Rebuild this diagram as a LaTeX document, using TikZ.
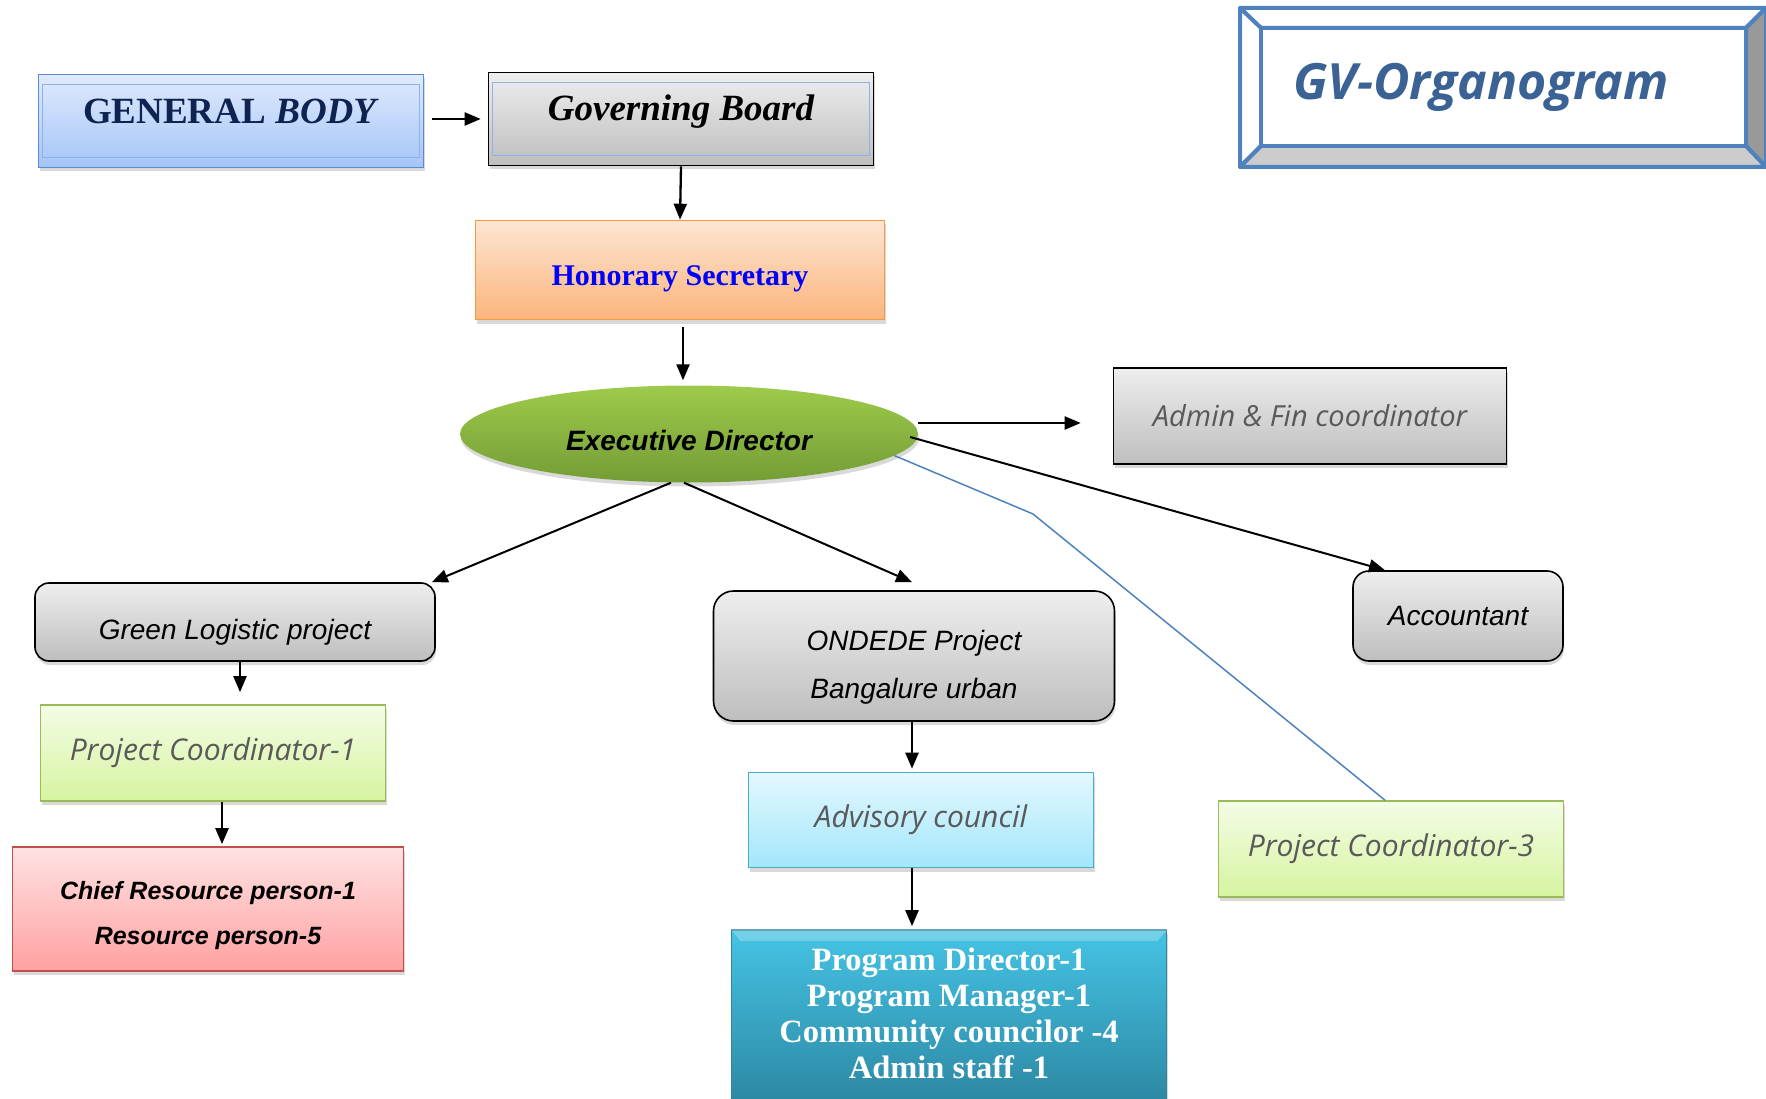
\documentclass[tikz,border=0pt]{standalone}
\usepackage{fontspec}
\setmainfont{Liberation Serif}
\setsansfont{Liberation Sans}
\newfontfamily\comicfont{Open Sans}
\usetikzlibrary{arrows.meta,shapes.geometric,shadows}

\definecolor{gbtop}{HTML}{DFEAFD}
\definecolor{gbbot}{HTML}{A5C5F8}
\definecolor{gbline}{HTML}{5B8BD0}
\definecolor{navy}{HTML}{0F2350}
\definecolor{graytop}{HTML}{EEEEEE}
\definecolor{graybot}{HTML}{BEBEBE}
\definecolor{innerblue}{HTML}{8DB3E2}
\definecolor{hstop}{HTML}{FDE5D2}
\definecolor{hsbot}{HTML}{FBB57C}
\definecolor{hsline}{HTML}{F79646}
\definecolor{edtop}{HTML}{9DCB4B}
\definecolor{edbot}{HTML}{749C36}
\definecolor{pctop}{HTML}{F4FCE6}
\definecolor{pcbot}{HTML}{D6F4A0}
\definecolor{pcline}{HTML}{9BBB59}
\definecolor{crtop}{HTML}{FFE2E2}
\definecolor{crbot}{HTML}{FFA1A1}
\definecolor{crline}{HTML}{C0504D}
\definecolor{actop}{HTML}{E3F8FE}
\definecolor{acbot}{HTML}{A3E6FB}
\definecolor{acline}{HTML}{4BACC6}
\definecolor{prtop}{HTML}{45C3E4}
\definecolor{prbot}{HTML}{2C87A2}
\definecolor{prline}{HTML}{31859C}
\definecolor{comicgray}{HTML}{595959}
\definecolor{titleblue}{HTML}{3A6294}
\definecolor{frameblue}{HTML}{4F81BD}

\begin{document}
\begin{tikzpicture}[x=1pt,y=-1pt,
  basebox/.style={rectangle, inner sep=0pt, align=center,
    drop shadow={shadow xshift=1pt, shadow yshift=-4pt, opacity=0.3}},
  graybox/.style={basebox, draw=black, line width=1.6pt, top color=graytop, bottom color=graybot},
  roundbox/.style={graybox, rounded corners=16pt, font=\sffamily\itshape\fontsize{28}{48}\selectfont},
  greenbox/.style={basebox, draw=pcline, line width=1.6pt, top color=pctop, bottom color=pcbot,
    text=comicgray, font=\comicfont\itshape\fontsize{30}{34}\selectfont,
    minimum width=345pt, minimum height=96pt},
  innerline/.style={draw=innerblue, line width=0.8pt},
  arr/.style={-{Triangle[length=16pt,width=13pt]}, line width=2.3pt},
  blueline/.style={draw=frameblue, line width=1.5pt}]

  \useasboundingbox (0,0) rectangle (1766,1099);

  % title frame
  \filldraw[fill=white, draw=frameblue, line width=4pt, line join=round]
    (1240,8) -- (1766,8) -- (1746,28) -- (1261,28) -- cycle;
  \filldraw[fill=white, draw=frameblue, line width=4pt, line join=round]
    (1240,8) -- (1261,28) -- (1261,146) -- (1240,167) -- cycle;
  \filldraw[fill=gray!80, draw=frameblue, line width=4pt, line join=round]
    (1766,8) -- (1746,28) -- (1746,146) -- (1766,167) -- cycle;
  \filldraw[fill=gray!40, draw=frameblue, line width=4pt, line join=round]
    (1240,167) -- (1261,146) -- (1746,146) -- (1766,167) -- cycle;
  \filldraw[fill=white, draw=frameblue, line width=4pt] (1261,28) rectangle (1746,146);
  \node[text=titleblue, font=\comicfont\bfseries\itshape\fontsize{50}{56}\selectfont]
    (title) at (1481,87) {GV-Organogram};

  % top of the chart
  \node[basebox, draw=gbline, line width=1.6pt, top color=gbtop, bottom color=gbbot,
    minimum width=385pt, minimum height=93pt, text=navy,
    font=\bfseries\fontsize{37}{40}\selectfont, text height=25pt, text depth=20pt]
    (gbody) at (231,121) {GENERAL \textit{BODY}};
  \draw[innerline] ([xshift=5pt,yshift=-11pt]gbody.north west) rectangle ([xshift=-5pt,yshift=11pt]gbody.south east);

  \node[graybox, minimum width=385pt, minimum height=93pt,
    font=\bfseries\itshape\fontsize{37}{40}\selectfont, text height=27pt, text depth=23pt]
    (gboard) at (681,119) {Governing Board};
  \draw[innerline] ([xshift=5pt,yshift=-11pt]gboard.north west) rectangle ([xshift=-5pt,yshift=11pt]gboard.south east);

  \node[basebox, draw=hsline, line width=1.6pt, top color=hstop, bottom color=hsbot,
    minimum width=409pt, minimum height=99pt, text=blue,
    font=\bfseries\fontsize{30}{32}\selectfont, text height=40pt, text depth=9pt]
    (honsec) at (680,270) {Honorary Secretary};

  \node[ellipse, inner sep=0pt, top color=edtop, bottom color=edbot,
    drop shadow={shadow xshift=1pt, shadow yshift=-4pt, opacity=0.3},
    minimum width=458pt, minimum height=97pt,
    font=\sffamily\bfseries\itshape\fontsize{28}{30}\selectfont, text height=33pt, text depth=0pt]
    (exdir) at (689,434) {Executive Director};

  \node[graybox, minimum width=393pt, minimum height=96pt, text=comicgray,
    font=\comicfont\itshape\fontsize{29}{32}\selectfont]
    (adminfin) at (1310,416) {Admin \& Fin coordinator};

  % projects
  \node[roundbox, minimum width=400pt, minimum height=78pt, rounded corners=14pt,
    text height=40pt, text depth=5pt]
    (greenlog) at (235,622) {Green Logistic project};
  \node[roundbox, minimum width=401pt, minimum height=130pt, rounded corners=20pt,
    text height=90pt, text depth=6pt]
    (ondede) at (914,656) {ONDEDE Project\\Bangalure urban};
  \node[roundbox, minimum width=210pt, minimum height=90pt]
    (accountant) at (1458,616) {Accountant};

  \node[greenbox] (pcone) at (213,753) {Project Coordinator-1};
  \node[greenbox] (pcthree) at (1391,849) {Project Coordinator-3};

  \node[basebox, draw=crline, line width=1.6pt, top color=crtop, bottom color=crbot,
    minimum width=391pt, minimum height=124pt,
    font=\sffamily\bfseries\itshape\fontsize{25}{45}\selectfont, text height=75pt, text depth=5pt]
    (chief) at (208,909) {Chief Resource person-1\\Resource person-5};

  \node[basebox, draw=acline, line width=1.6pt, top color=actop, bottom color=acbot,
    minimum width=345pt, minimum height=95pt, text=comicgray,
    font=\comicfont\itshape\fontsize{30}{34}\selectfont]
    (advisory) at (921,820) {Advisory council};

  \node[basebox, draw=prline, line width=1.6pt, top color=prtop, bottom color=prbot,
    minimum width=435pt, minimum height=176pt, text=white,
    font=\bfseries\fontsize{32.5}{36}\selectfont, text depth=9pt]
    (program) at (949,1018) {Program Director-1\\Program Manager-1\\Community councilor -4\\Admin staff -1};
  \fill[white, opacity=0.25] (program.north west) -- (program.north east)
    -- ([xshift=-10pt,yshift=-12pt]program.north east) -- ([xshift=10pt,yshift=-12pt]program.north west) -- cycle;

  % connectors
  \draw[arr, shorten <=8pt, shorten >=7pt] ([yshift=2pt]gbody.east) -- (gboard.west);
  \draw[arr] (gboard.south) -- (honsec.north);
  \draw[arr, shorten <=7pt, shorten >=5pt] ([xshift=3pt]honsec.south) -- ([xshift=3pt]honsec.south |- exdir.north);
  \draw[arr, shorten >=32pt] ([yshift=11pt]exdir.east) -- ([yshift=11pt]exdir.east -| adminfin.west);
  \draw[arr, line width=2pt] ([xshift=-8pt,yshift=-3pt]exdir.east) -- ([xshift=-73pt]accountant.north);
  \draw[arr, line width=2pt] ([xshift=-18pt]exdir.south) -- ([xshift=-4pt]greenlog.north east);
  \draw[arr, line width=2pt] ([xshift=-5pt]exdir.south) -- ([xshift=-2pt,yshift=8pt]ondede.north);
  \coordinate (bend) at (1033,514);
  \draw[blueline] (exdir.-6) -- (bend) -- ([xshift=-6pt]pcthree.north);
  \draw[arr, shorten >=12pt] ([xshift=5pt]greenlog.south) -- ([xshift=5pt]greenlog.south |- pcone.north);
  \draw[arr, shorten >=2pt] ([xshift=9pt]pcone.south) -- ([xshift=9pt]pcone.south |- chief.north);
  \draw[arr, shorten >=3pt] ([xshift=-2pt]ondede.south) -- ([xshift=-2pt]ondede.south |- advisory.north);
  \draw[arr, shorten >=3pt] ([xshift=-9pt]advisory.south) -- ([xshift=-9pt]advisory.south |- program.north);

\end{tikzpicture}
\end{document}
